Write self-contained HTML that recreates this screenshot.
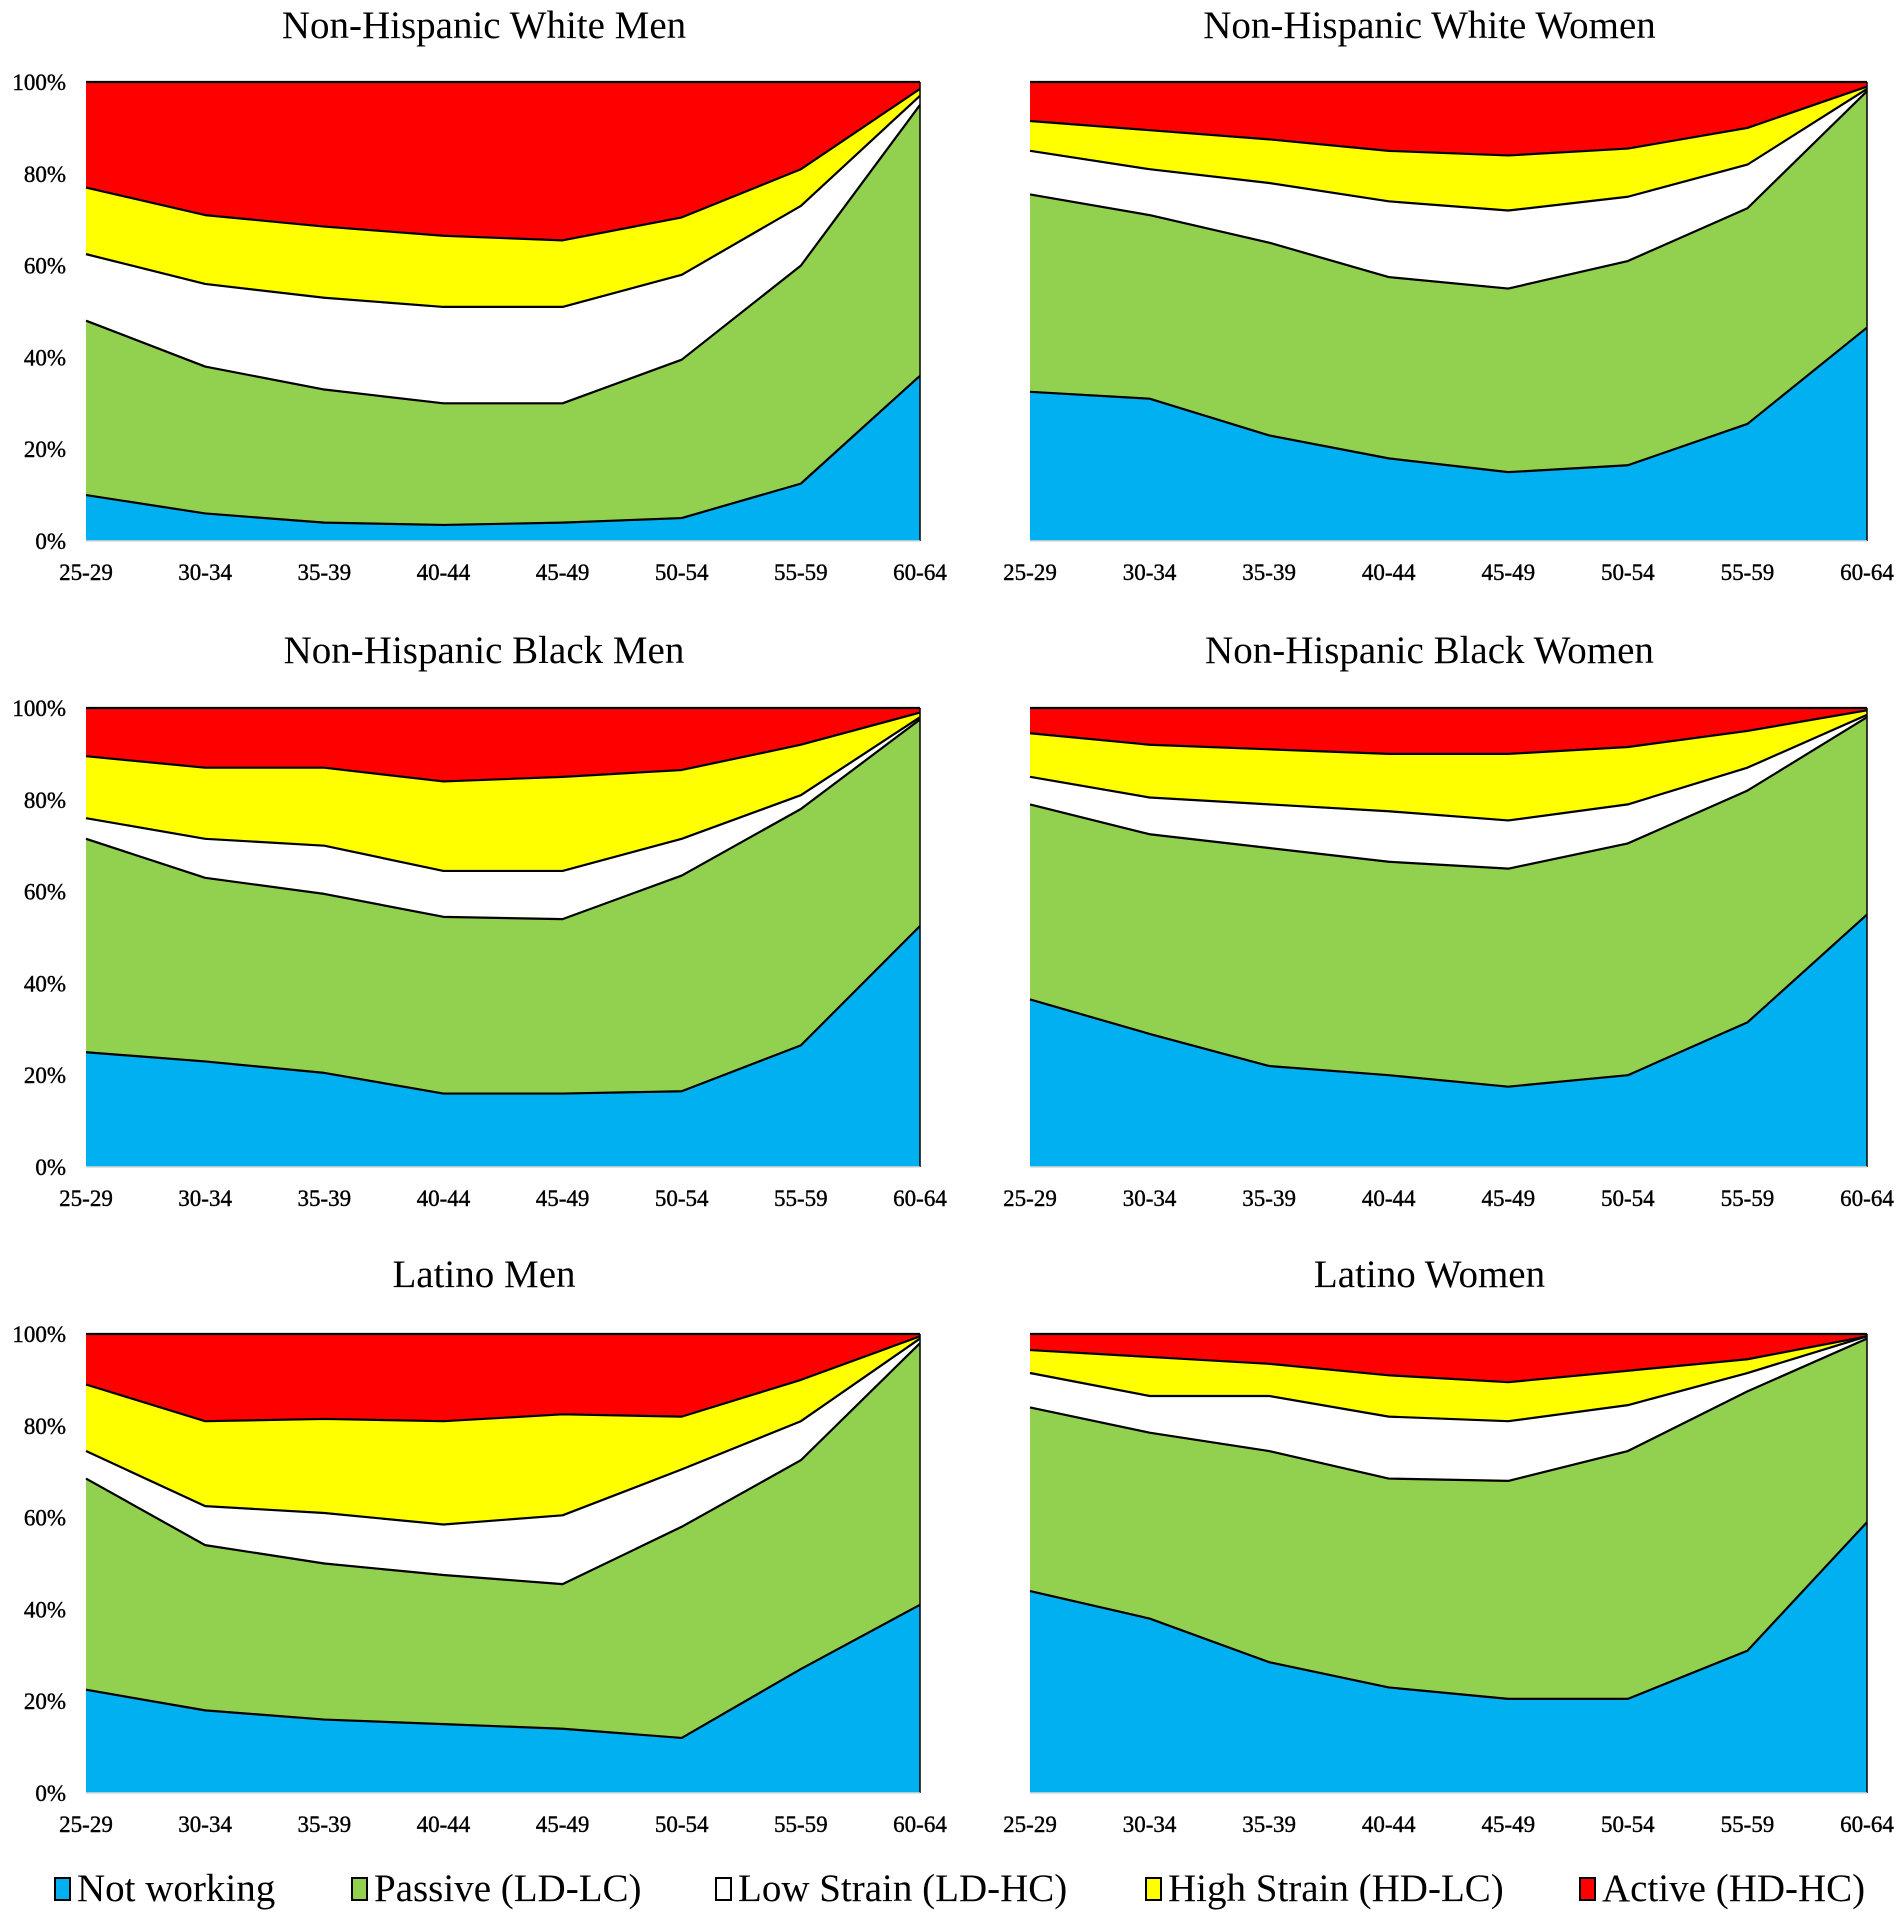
<!DOCTYPE html>
<html><head><meta charset="utf-8"><style>
html,body{margin:0;padding:0;background:#fff;}
svg{display:block;font-family:"Liberation Serif",serif;}
</style></head><body>
<svg id="chart" width="1904" height="1920" viewBox="0 0 1904 1920" xmlns="http://www.w3.org/2000/svg"></svg>
<script>
const categories = ["25-29","30-34","35-39","40-44","45-49","50-54","55-59","60-64"];
const yTicks = [0,20,40,60,80,100];
const seriesNames = ["Not working","Passive (LD-LC)","Low Strain (LD-HC)","High Strain (HD-LC)","Active (HD-HC)"];
const seriesColors = ["#00b0f0","#92d050","#ffffff","#ffff00","#ff0000"];
const panelTitles = ["Non-Hispanic White Men","Non-Hispanic White Women","Non-Hispanic Black Men","Non-Hispanic Black Women","Latino Men","Latino Women"];
// cumulative top boundaries (%) for Not working, Passive, Low Strain, High Strain
const nhwMenCum = [[10,6,4,3.5,4,5,12.5,36],[48,38,33,30,30,39.5,60,95],[62.5,56,53,51,51,58,73,97],[77,71,68.5,66.5,65.5,70.5,81,98.5]];
const nhwWomenCum = [[32.5,31,23,18,15,16.5,25.5,46.5],[75.5,71,65,57.5,55,61,72.5,98],[85,81,78,74,72,75,82,98.5],[91.5,89.5,87.5,85,84,85.5,90,99]];
const nhbMenCum = [[25,23,20.5,16,16,16.5,26.5,52.5],[71.5,63,59.5,54.5,54,63.5,78,97.5],[76,71.5,70,64.5,64.5,71.5,81,98],[89.5,87,87,84,85,86.5,92,99]];
const nhbWomenCum = [[36.5,29,22,20,17.5,20,31.5,55],[79,72.5,69.5,66.5,65,70.5,82,98],[85,80.5,79,77.5,75.5,79,87,98.5],[94.5,92,91,90,90,91.5,95,99.5]];
const latMenCum = [[22.5,18,16,15,14,12,27,41],[68.5,54,50,47.5,45.5,58,72.5,98],[74.5,62.5,61,58.5,60.5,70.5,81,99],[89,81,81.5,81,82.5,82,90,99.5]];
const latWomenCum = [[44,38,28.5,23,20.5,20.5,31,59],[84,78.5,74.5,68.5,68,74.5,87.5,99],[91.5,86.5,86.5,82,81,84.5,91.5,99.5],[96.5,95,93.5,91,89.5,92,94.5,99.5]];
const panelData = [nhwMenCum,nhwWomenCum,nhbMenCum,nhbWomenCum,latMenCum,latWomenCum];

const NS="http://www.w3.org/2000/svg";
const svg=document.getElementById('chart');
function mk(tag,attrs,parent){const e=document.createElementNS(NS,tag);for(const k in attrs)e.setAttribute(k,attrs[k]);(parent||svg).appendChild(e);return e;}
const colX=[[86,920],[1030,1867]];
const rowY=[[82,541],[708,1167],[1334,1793]];
const titleY=[38,663,1287];
const slugs=["nhw-men","nhw-women","nhb-men","nhb-women","latino-men","latino-women"];
panelData.forEach((cum,p)=>{
  const c=p%2,r=Math.floor(p/2);
  const [x0,x1]=colX[c],[yTop,yBot]=rowY[r];
  const xs=i=>x0+(x1-x0)*i/(categories.length-1);
  const ys=v=>yBot-(yBot-yTop)*v/100;
  const g=mk('g',{});
  
  
  const t=mk('text',{x:(x0+x1)/2-19,y:titleY[r],'text-anchor':'middle','font-size':39},g);
  t.textContent=panelTitles[p];
  
  
  const bounds=[categories.map(()=>0),...cum,categories.map(()=>100)];
  for(let s=0;s<5;s++){
    const lo=bounds[s],hi=bounds[s+1];
    let d='';
    hi.forEach((v,i)=>{d+=(i?'L':'M')+xs(i)+','+ys(v);});
    for(let i=lo.length-1;i>=0;i--)d+='L'+xs(i)+','+ys(lo[i]);
    d+='Z';
    const path=mk('path',{d:d,fill:seriesColors[s],stroke:'none'},g);
    
    
  }
  for(let s=1;s<bounds.length;s++){
    let d='';
    bounds[s].forEach((v,i)=>{d+=(i?'L':'M')+xs(i)+','+ys(v);});
    const ln=mk('path',{d:d,fill:'none',stroke:'#000','stroke-width':2.2,'stroke-linejoin':'round'},g);
    
    
  }
  const rl=mk('line',{x1:x1,y1:yTop,x2:x1,y2:yBot,stroke:'#000','stroke-width':1.5},g);
  
  
  const bl=mk('line',{x1:x0,y1:yBot,x2:x1,y2:yBot,stroke:'#d9d9d9','stroke-width':1.5},g);
  
  
  if(c===0){
    yTicks.forEach(v=>{
      const tt=mk('text',{x:x0-20,y:ys(v)+8,'text-anchor':'end','font-size':23,'stroke':'#000','stroke-width':0.4},g);
      tt.textContent=v+'%';
      
      
    });
  }
  categories.forEach((cat,i)=>{
    const tt=mk('text',{x:xs(i),y:yBot+39,'text-anchor':'middle','font-size':23,'stroke':'#000','stroke-width':0.4},g);
    tt.textContent=cat;
    
    
  });
});
const legendX=[55,352,716,1146,1580];
const lg=mk('g',{});


seriesNames.forEach((n,i)=>{
  const r=mk('rect',{x:legendX[i],y:1878,width:15,height:22,fill:seriesColors[i],stroke:'#000','stroke-width':2},lg);
  
  
  const t=mk('text',{x:legendX[i]+22,y:1901,'font-size':39},lg);
  t.textContent=n;
  
  
});
</script>
</body></html>
